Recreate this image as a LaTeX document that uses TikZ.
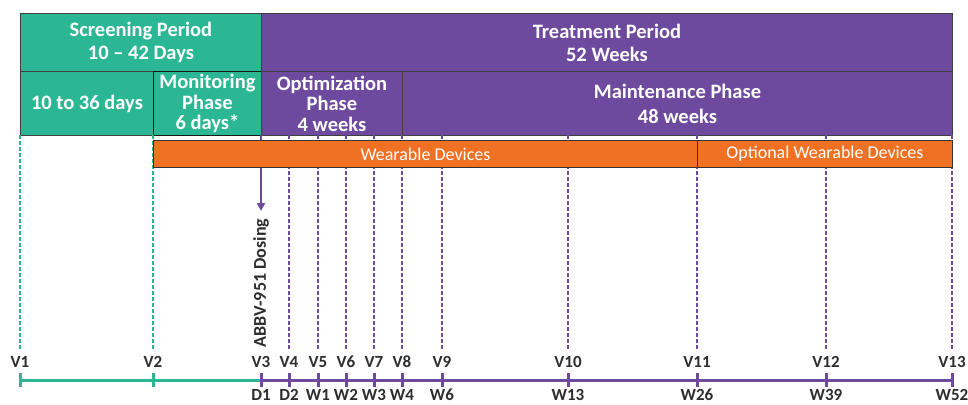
\documentclass[tikz,border=0pt]{standalone}
\usepackage{fontspec}
\setmainfont{Carlito}
\usetikzlibrary{arrows.meta, positioning, calc}
\definecolor{scrgreen}{RGB}{43,183,147}
\definecolor{trtpurple}{RGB}{110,74,158}
\definecolor{devorange}{RGB}{240,113,35}
\definecolor{labelgray}{RGB}{45,45,45}

\tikzset{
  phase/.style={draw=black!75, line width=0.9pt, text=white, align=center,
    inner sep=0pt, anchor=north west,
    font=\bfseries\fontsize{20.5}{23}\selectfont},
  devbar/.style={draw=black!80, line width=0.9pt, fill=devorange, text=white,
    inner sep=0pt, anchor=north west, minimum height=27pt,
    font=\fontsize{18}{20}\selectfont},
  visit/.style={dash pattern=on 4pt off 2pt, line width=2pt},
  vlabel/.style={text=labelgray, inner sep=0pt,
    font=\bfseries\fontsize{17}{19}\selectfont},
}

\begin{document}
\begin{tikzpicture}[x=1pt, y=-1pt]
    \useasboundingbox (0,0) rectangle (968,404);

    % Periods
    \node[phase, fill=scrgreen, minimum width=241pt, minimum height=58pt] (screen) at (20,13)
        {Screening Period\\10 -- 42 Days};
    \node[phase, fill=trtpurple, minimum width=691pt, minimum height=58pt] (treat) at (261,13)
        {Treatment Period\\52 Weeks};

    % Phases
    \node[phase, fill=scrgreen, minimum width=133pt, minimum height=64pt] (early) at (20,71)
        {10 to 36 days};
    \node[phase, fill=scrgreen, draw=black!90, minimum width=108pt, minimum height=64pt,
        font=\bfseries\fontsize{20.5}{20.5}\selectfont] (monitor) at (153,71)
        {Monitoring\\Phase\\6 days*};
    \node[phase, fill=trtpurple, minimum width=141pt, minimum height=64pt,
        font=\bfseries\fontsize{20.5}{20.5}\selectfont] (optim) at (261,71)
        {Optimization\\Phase\\4 weeks};
    \node[phase, fill=trtpurple, minimum width=550pt, minimum height=64pt,
        font=\bfseries\fontsize{20.5}{25}\selectfont] (maint) at (402,71)
        {Maintenance Phase\\48 weeks};

    % Visits
    \foreach \n/\x in {1/20, 2/153, 3/261, 4/289, 5/318, 6/346, 7/374,
        8/402, 9/442, 10/568, 11/697, 12/826, 13/952} {
        \coordinate (top\n) at (\x,135);
        \coordinate (bot\n) at (\x,350);
        \node[vlabel] (v\n) at (\x,362) {V\n};
        \coordinate (t\n) at (\x,380);
    }
    \foreach \n in {1,2} \draw[visit, scrgreen, line width=1.6pt] (top\n) -- (bot\n);
    \foreach \n in {4,...,13} \draw[visit, trtpurple] (top\n) -- (bot\n);

    % Wearables
    \node[devbar, minimum width=544pt] (wear) at (153,140) {Wearable Devices};
    \node[devbar, minimum width=255pt] (optwear) at (697,140) {Optional Wearable Devices};

    % Dosing
    \draw[trtpurple, line width=2pt] (top3) -- (wear.north west -| top3);
    \coordinate (dose) at (261,211);
    \draw[trtpurple, line width=2pt, -{Triangle[length=8pt, width=8pt]}]
        (wear.south west -| top3) -- (dose);
    \node[vlabel, rotate=90, font=\bfseries\fontsize{18}{20}\selectfont] (dosing)
        at (261,283) {ABBV-951 Dosing};

    % Timeline
    \draw[scrgreen, line width=3pt] (t1) -- (t3);
    \draw[trtpurple, line width=3pt] (t3) -- (t13);
    \foreach \n in {1,2} \draw[scrgreen, line width=3pt] ([yshift=7pt]t\n) -- ([yshift=-7pt]t\n);
    \foreach \n in {3,...,13} \draw[trtpurple, line width=3pt] ([yshift=7pt]t\n) -- ([yshift=-7pt]t\n);

    % Days and weeks
    \foreach \n/\d in {3/D1, 4/D2, 5/W1, 6/W2, 7/W3, 8/W4, 9/W6, 10/W13,
        11/W26, 12/W39, 13/W52}
        \node[vlabel, below=9pt of t\n] (d\n) {\d};
\end{tikzpicture}
\end{document}
